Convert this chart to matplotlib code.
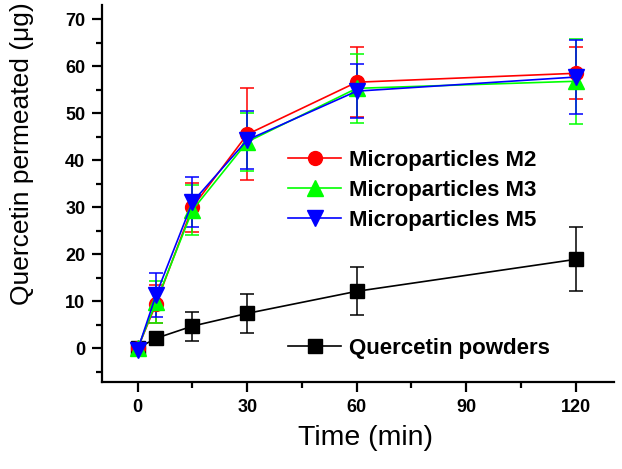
import matplotlib
matplotlib.use("Agg")
import matplotlib.pyplot as plt
from matplotlib.ticker import MultipleLocator
from matplotlib.lines import Line2D

plt.rcParams['font.family'] = ['Liberation Sans', 'DejaVu Sans']

time = [0, 5, 15, 30, 60, 120]

m2 = [0.0, 9.4, 30.0, 45.5, 56.6, 58.5]
m2_err = [0.0, 4.0, 5.2, 9.8, 7.4, 5.5]

m3 = [0.0, 9.8, 29.4, 43.9, 55.3, 56.8]
m3_err = [0.0, 4.5, 5.3, 6.2, 7.4, 9.0]

m5 = [-0.3, 11.3, 31.1, 44.3, 54.7, 57.7]
m5_err = [0.0, 4.6, 5.3, 6.1, 5.8, 7.8]

powder = [0.0, 2.1, 4.7, 7.4, 12.1, 18.9]
powder_err = [0.0, 0.8, 3.1, 4.2, 5.1, 6.8]

labels = ['Microparticles M2', 'Microparticles M3', 'Microparticles M5', 'Quercetin powders']
colors = ['#ff0000', '#00ff00', '#0000ff', 'black']
markers = ['o', '^', 'v', 's']
msizes = [10, 11.5, 11.5, 10]

fig = plt.figure(figsize=(6.22, 4.69), dpi=100)
ax = fig.add_axes([0.164, 0.1855, 0.823, 0.8035])

common = dict(capsize=5, elinewidth=1.1, capthick=1.1, linewidth=1.2)
series = [(m2, m2_err), (m3, m3_err), (m5, m5_err), (powder, powder_err)]
order = [3, 0, 1, 2]
for i in order:
    vals, err = series[i]
    ax.errorbar(time, vals, yerr=err, color=colors[i], marker=markers[i], ms=msizes[i], **common)

ax.set_xlim(-9.8, 130.5)
ax.set_ylim(-7.2, 73)
ax.xaxis.set_major_locator(MultipleLocator(30))
ax.xaxis.set_minor_locator(MultipleLocator(15))
ax.yaxis.set_major_locator(MultipleLocator(10))
ax.yaxis.set_minor_locator(MultipleLocator(5))

for s in ['top', 'right']:
    ax.spines[s].set_visible(False)
for s in ['left', 'bottom']:
    ax.spines[s].set_linewidth(1.6)

ax.tick_params(which='major', direction='out', length=7, width=1.6, labelsize=13, pad=5)
ax.tick_params(which='minor', direction='out', length=4.3, width=1.6)
for lab in ax.get_xticklabels() + ax.get_yticklabels():
    lab.set_fontweight('bold')

ax.set_xlabel('Time (min)', fontsize=20.5)
ax.set_ylabel('Quercetin permeated (\u03bcg)', fontsize=19)
ax.xaxis.set_label_coords(0.514, -0.113)
ax.yaxis.set_label_coords(-0.133, 0.605)

handles = [Line2D([], [], color=colors[i], marker=markers[i], ms=msizes[i], lw=1.2) for i in range(4)]

leg1 = ax.legend(handles[:3], labels[:3], loc='upper left',
                 bbox_to_anchor=(288 / 622, 1 - 150 / 469), bbox_transform=fig.transFigure,
                 frameon=False, prop={'weight': 'bold', 'size': 16},
                 handlelength=2.4, handletextpad=0.35, labelspacing=0.4,
                 borderpad=0, borderaxespad=0)
ax.add_artist(leg1)
leg2 = ax.legend(handles[3:], labels[3:], loc='upper left',
                 bbox_to_anchor=(288 / 622, 1 - 338 / 469), bbox_transform=fig.transFigure,
                 frameon=False, prop={'weight': 'bold', 'size': 16},
                 handlelength=2.4, handletextpad=0.35,
                 borderpad=0, borderaxespad=0)

fig.savefig('out.png', dpi=100)
